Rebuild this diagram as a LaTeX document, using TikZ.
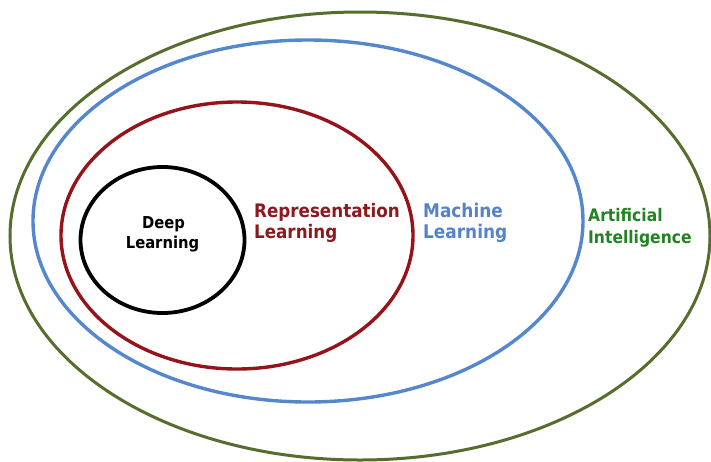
\documentclass[tikz,border=0pt]{standalone}
\usepackage{fontspec}
\setmainfont{DejaVu Sans Condensed}
\definecolor{ailine}{RGB}{85,110,45}
\definecolor{mlline}{RGB}{85,135,205}
\definecolor{rlline}{RGB}{150,20,25}
\definecolor{aitext}{RGB}{35,130,35}
\definecolor{mltext}{RGB}{85,130,205}
\definecolor{rltext}{RGB}{140,25,30}
\tikzset{
  lbl/.style={anchor=base west, inner sep=0pt},
  clbl/.style={anchor=base, inner sep=0pt}
}
\begin{document}
\begin{tikzpicture}[x=1pt,y=-1pt]
\useasboundingbox (0,0) rectangle (711,461);
\fill[white] (0,0) rectangle (711,461);
\draw[ailine, line width=3pt] (360,236) ellipse [x radius=350pt, y radius=224pt];
\draw[mlline, line width=3.4pt] (308,221) ellipse [x radius=275pt, y radius=181pt];
\draw[rlline, line width=3.4pt] (237,235.5) ellipse [x radius=176pt, y radius=133.5pt];
\draw[black, line width=3.8pt] (162.5,240) ellipse [x radius=82pt, y radius=73pt];
\node[clbl, font=\bfseries\fontsize{16.4}{20}\selectfont] (dl1) at (163.5,228) {Deep};
\node[clbl, font=\bfseries\fontsize{16.4}{20}\selectfont] (dl2) at (162.5,248) {Learning};
\node[lbl, text=rltext, font=\bfseries\fontsize{18.6}{22}\selectfont] (rl1) at (254,217) {Representation};
\node[lbl, text=rltext, font=\bfseries\fontsize{18.6}{22}\selectfont] (rl2) at (254,238) {Learning};
\node[lbl, text=mltext, font=\bfseries\fontsize{18.8}{22}\selectfont] (ml1) at (423,217) {Machine};
\node[lbl, text=mltext, font=\bfseries\fontsize{18.8}{22}\selectfont] (ml2) at (423,238) {Learning};
\node[lbl, text=aitext, font=\bfseries\fontsize{17.3}{21}\selectfont] (ai1) at (588,221) {Artificial};
\node[lbl, text=aitext, font=\bfseries\fontsize{17.3}{21}\selectfont] (ai2) at (588,243) {Intelligence};
\end{tikzpicture}
\end{document}
